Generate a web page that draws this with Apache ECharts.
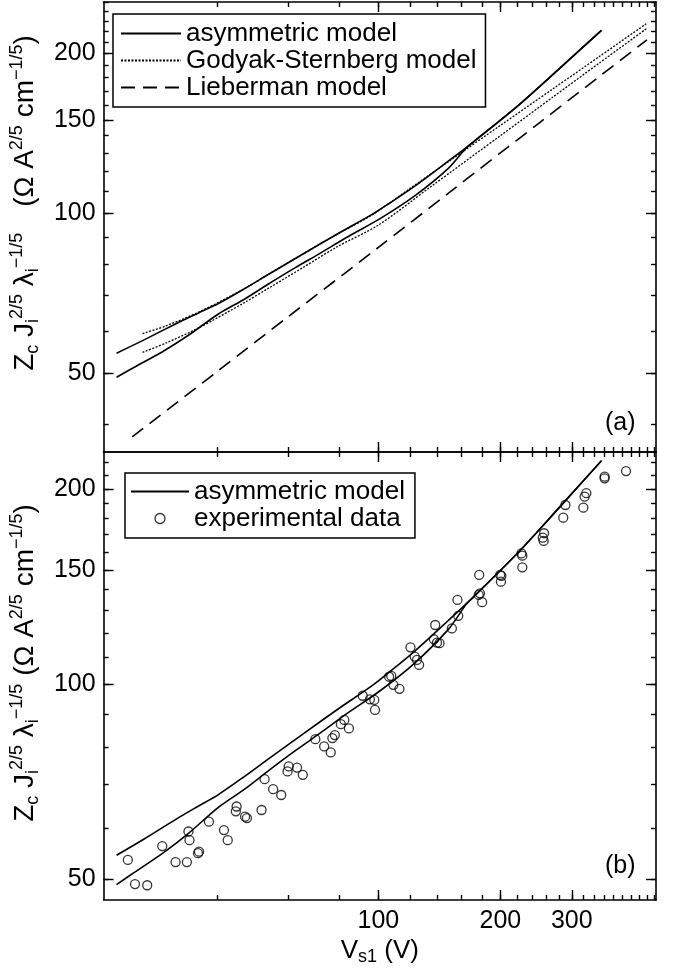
<!DOCTYPE html>
<html><head><meta charset="utf-8">
<script src="https://cdn.jsdelivr.net/npm/echarts@6/dist/echarts.min.js"></script>
<style>html,body{margin:0;padding:0;background:#fff}#c{width:673px;height:973px}</style>
</head><body><div id="c"></div>
<script>
// ---- tick values ----
const xMinorTicks = [40,60,80,100,120,140,160,180,200,220,240,260,280,300,320,340,360,380,400,420,440,460,480];
const xMajorTicks = [100,200,300];
const xLabelValues = [100,200,300];
const yMinorTicksA = [40,50,60,70,80,90,100,110,120,130,140,150,160,170,180,190,200,210,220,230,240,250];
const yMinorTicksB = [50,60,70,80,90,100,110,120,130,140,150,160,170,180,190,200,210,220];
const yMajorTicks = [50,100,150,200];
const yLabelValues = [50,100,150,200];

// ---- series data [V_s1, Z] ----
const asymUpper = [[22.6,54.5],[26.5,57.8],[31.5,61.8],[36,64.9],[40.3,67.6],[46.6,72.0],[54,77.0],[65.5,84.0],[79.4,91.5],[96.5,99.5],[106,104.2],[123,112.5],[149,125.5],[172,136.5],[220,159],[280,187.5],[355,221]];
const asymLower = [[22.6,49.1],[24.8,51.1],[29.4,54.9],[34.0,58.9],[40.3,64.6],[46.6,68.8],[53.9,73.8],[62.4,79.0],[72.1,84.2],[83.4,90.0],[101.2,97.8],[122.9,107.8],[149,121.6],[165,133],[172,136.5],[220,159],[280,187.5],[355,221]];
const godyakUpper = [[26.2,59.3],[30,61.4],[36,65.1],[46.6,72.0],[54,77.0],[65.5,84.0],[79.4,91.4],[96.5,99.3],[120,111.5],[150,125.6],[200,146.4],[270,171.7],[350,197.1],[458,227.5]];
const godyakLower = [[26.2,54.7],[30,57.0],[36,60.8],[46.6,67.8],[54,72.5],[65.5,79.2],[79.4,86.6],[100,95.0],[134,111.9],[200,140.0],[270,165.7],[350,191.6],[458,222.6]];
const lieberman = [[24.7,37.9],[40,50.3],[60,63.9],[100,86.2],[150,109.6],[250,148.2],[350,180.7],[459.7,212.2]];
const experimental = [[24.1,53.6],[25.1,49.2],[26.9,49.0],[29.3,56.3],[31.6,53.2],[33.7,53.2],[34.0,59.3],[34.2,57.5],[35.9,54.9],[36.1,55.2],[38.2,61.4],[41.6,59.6],[42.5,57.5],[44.7,64.8],[44.5,63.7],[46.9,62.5],[47.4,62.2],[51.5,64.0],[52.4,71.4],[55.0,68.9],[57.6,67.5],[59.7,73.4],[60.1,74.7],[63.0,74.4],[65.1,72.5],[69.9,82.3],[73.5,80.2],[76.3,78.5],[77.0,82.6],[78.1,83.5],[80.8,86.8],[82.4,88.1],[84.6,85.5],[91.5,96.0],[95.3,94.8],[97.7,94.6],[98.1,91.3],[106.3,102.7],[107.6,103.0],[108.9,99.8],[112.7,98.4],[120.0,114.0],[122.9,110.3],[124.5,109.0],[126.0,107.1],[137.1,117.3],[139.5,115.9],[141.5,115.7],[138.1,123.4],[151.8,121.9],[156.7,134.9],[157.4,127.5],[177.3,147.4],[176.8,137.3],[178.1,138.1],[180.3,133.8],[199.7,147.4],[200.6,143.9],[201.1,146.9],[225.4,159.1],[226.5,157.8],[226.5,151.4],[254.4,168.2],[255.7,166.3],[256.3,170.9],[285.8,180.6],[289.3,188.9],[320.3,187.1],[322.7,194.6],[325.8,197.0],[361.5,208.9],[361.5,207.7],[408.2,213.1]];

// ---- ranges ----
const xRange = [21, 484];
const yRangeA = [35.5, 250];
const yRangeB = [46.5, 228];

const FONT = '"Liberation Sans", Arial, Helvetica, sans-serif';
const BLACK = '#000';

const richName = {
  m: {fontSize: 28, fontFamily: FONT, color: BLACK, lineHeight: 40},
  sb: {fontSize: 18, fontFamily: FONT, color: BLACK, lineHeight: 40, padding: [15, 0, 0, 0]},
  sp: {fontSize: 18, fontFamily: FONT, color: BLACK, lineHeight: 40, padding: [0, 0, 17, 0]},
  gap: {fontSize: 28, fontFamily: FONT, color: BLACK, lineHeight: 40, width: 18}
};

function axisBase(gi, pos, range, ticks, len, showLine) {
  return {
    type: 'log', gridIndex: gi, position: pos, min: range[0], max: range[1],
    axisLine: {show: showLine, onZero: false, lineStyle: {color: BLACK, width: 1.6}},
    axisTick: {show: true, inside: true, length: len, customValues: ticks, lineStyle: {color: BLACK, width: 1.4}},
    axisLabel: {show: false},
    splitLine: {show: false}, minorTick: {show: false}, minorSplitLine: {show: false}
  };
}

const xAxes = [];
const yAxes = [];
[0, 1].forEach(function (gi) {
  const bottomMinor = axisBase(gi, 'bottom', xRange, xMinorTicks, 5, true);
  if (gi === 1) {
    bottomMinor.axisLabel = {show: true, customValues: xLabelValues, margin: 9, color: BLACK, fontSize: 25, fontFamily: FONT,
      formatter: function (v) { return String(Math.round(v)); }};
    bottomMinor.name = '{m|V}{sb|s1}{m| (V)}';
    bottomMinor.nameLocation = 'middle';
    bottomMinor.nameGap = 30;
    bottomMinor.nameTextStyle = {rich: {
      m: {fontSize: 26, fontFamily: FONT, color: BLACK, lineHeight: 34},
      sb: {fontSize: 18, fontFamily: FONT, color: BLACK, lineHeight: 34, padding: [13, 0, 0, 0]}
    }};
  }
  xAxes.push(bottomMinor);
  xAxes.push(axisBase(gi, 'bottom', xRange, xMajorTicks, 10, false));
  xAxes.push(axisBase(gi, 'top', xRange, xMinorTicks, 5, true));
  xAxes.push(axisBase(gi, 'top', xRange, xMajorTicks, 10, false));

  const yr = gi === 0 ? yRangeA : yRangeB;
  const ym = gi === 0 ? yMinorTicksA : yMinorTicksB;
  const leftMinor = axisBase(gi, 'left', yr, ym, 5, true);
  leftMinor.axisLabel = {show: true, customValues: yLabelValues, margin: 8, color: BLACK, fontSize: 25, fontFamily: FONT,
    formatter: function (v) { return String(Math.round(v)); }};
  leftMinor.name = gi === 0
    ? '{m|Z}{sb|c}{m| J}{sb|i}{sp|2/5}{m| λ}{sb|i}{sp|−1/5}{gap| }{m| (Ω A}{sp|2/5}{m| cm}{sp|−1/5}{m|)}'
    : '{m|Z}{sb|c}{m| J}{sb|i}{sp|2/5}{m| λ}{sb|i}{sp|−1/5}{m| (Ω A}{sp|2/5}{m| cm}{sp|−1/5}{m|)}';
  leftMinor.nameLocation = 'middle';
  leftMinor.nameRotate = 90;
  leftMinor.nameGap = 50;
  leftMinor.nameTextStyle = {rich: richName, padding: gi === 0 ? [0, 0, 0, 48] : [0, 0, 0, 26]};
  yAxes.push(leftMinor);
  yAxes.push(axisBase(gi, 'left', yr, yMajorTicks, 10, false));
  yAxes.push(axisBase(gi, 'right', yr, ym, 5, true));
  yAxes.push(axisBase(gi, 'right', yr, yMajorTicks, 10, false));
});

function lineSeries(name, data, gi, style) {
  return {
    type: 'line', name: name, data: data, xAxisIndex: gi * 4, yAxisIndex: gi * 4,
    symbol: 'none', smooth: 0.3, silent: true, animation: false,
    itemStyle: {color: BLACK},
    lineStyle: Object.assign({color: BLACK, width: 1.6}, style)
  };
}

const series = [
  lineSeries('asymmetric model', asymUpper, 0, {type: 'solid'}),
  lineSeries('asymmetric model', asymLower, 0, {type: 'solid'}),
  lineSeries('Godyak-Sternberg model', godyakUpper, 0, {type: [2, 1.5], width: 1.3}),
  lineSeries('Godyak-Sternberg model', godyakLower, 0, {type: [2, 1.5], width: 1.3}),
  lineSeries('Lieberman model', lieberman, 0, {type: [14, 8], width: 1.6}),
  lineSeries('asymmetric model', asymUpper, 1, {type: 'solid'}),
  lineSeries('asymmetric model', asymLower, 1, {type: 'solid'}),
  {
    type: 'scatter', name: 'experimental data', data: experimental, xAxisIndex: 4, yAxisIndex: 4,
    symbol: 'circle', symbolSize: 9, silent: true, animation: false,
    itemStyle: {color: 'rgba(255,255,255,0)', borderColor: BLACK, borderWidth: 1.3}
  }
];

const hiddenSym = {opacity: 0};
const legendText = {fontSize: 26, fontFamily: FONT, color: BLACK, lineHeight: 27};
const option = {
  backgroundColor: '#fff',
  animation: false,
  grid: [
    {left: 101, top: 2, width: 555, height: 450},
    {left: 101, top: 452, width: 555, height: 448}
  ],
  xAxis: xAxes,
  yAxis: yAxes,
  legend: [
    {
      left: 113, top: 14, orient: 'vertical', itemWidth: 60, itemHeight: 10, itemGap: 0,
      padding: [6, 9, 6, 7], borderColor: BLACK, borderWidth: 1.5, backgroundColor: '#fff',
      selectedMode: false, textStyle: legendText,
      data: [
        {name: 'asymmetric model', itemStyle: hiddenSym},
        {name: 'Godyak-Sternberg model', itemStyle: hiddenSym},
        {name: 'Lieberman model', itemStyle: hiddenSym}
      ]
    },
    {
      left: 125, top: 473, orient: 'vertical', itemWidth: 58, itemHeight: 10, itemGap: 0,
      padding: [5, 10, 6, 5], borderColor: BLACK, borderWidth: 1.5, backgroundColor: '#fff',
      selectedMode: false, textStyle: legendText,
      data: [
        {name: 'asymmetric model', itemStyle: hiddenSym},
        {name: 'experimental data', itemStyle: {color: 'rgba(255,255,255,0)', borderColor: BLACK, borderWidth: 1.3}}
      ]
    }
  ],
  graphic: [
    {type: 'text', left: 605, top: 411, style: {text: '(a)', font: '25px ' + FONT, fill: BLACK}},
    {type: 'text', left: 605, top: 854, style: {text: '(b)', font: '25px ' + FONT, fill: BLACK}}
  ],
  series: series
};

const chart = echarts.init(document.getElementById('c'), null, {renderer: 'canvas', width: 673, height: 973});
chart.setOption(option);
</script>
</body></html>
